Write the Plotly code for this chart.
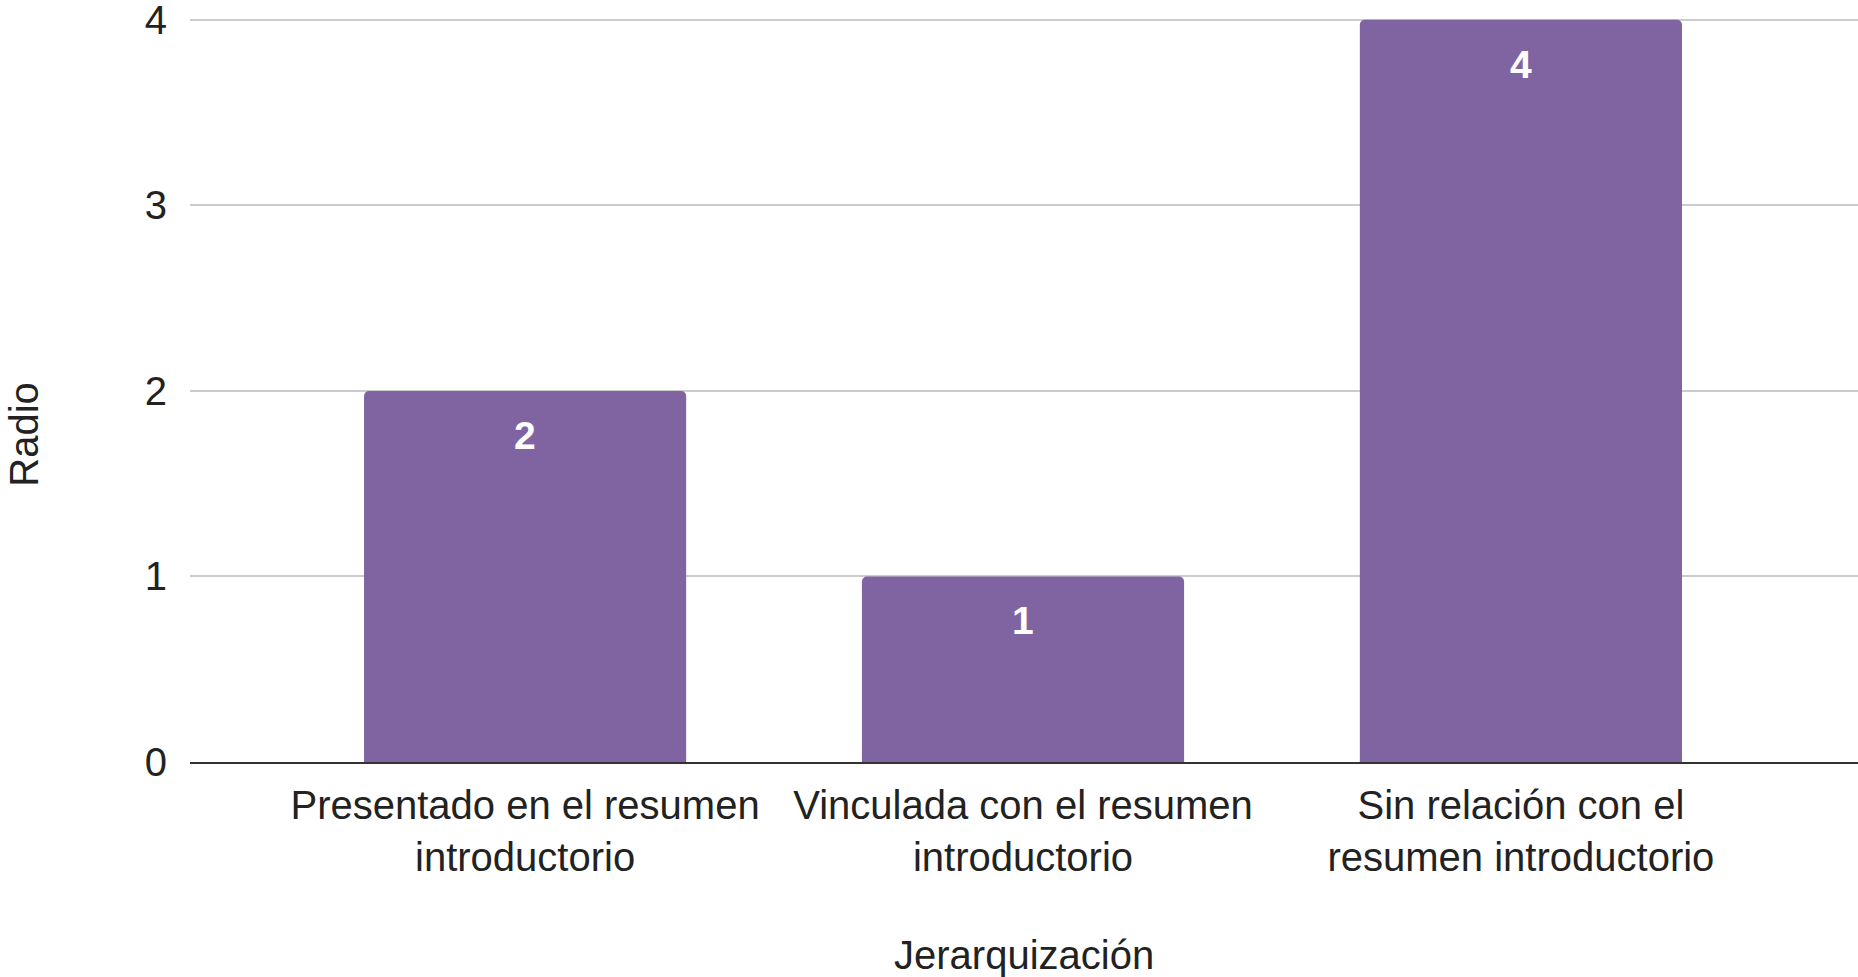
import plotly.graph_objects as go

# Data
categories = [
    'Presentado en el resumen<br>introductorio',
    'Vinculada con el resumen<br>introductorio',
    'Sin relación con el<br>resumen introductorio',
]
values = [2, 1, 4]
y_ticks = [0, 1, 2, 3, 4]

bar_color = '#8064A2'
font_family = 'Liberation Sans, Arial, sans-serif'
text_color = '#222222'

fig = go.Figure()

fig.add_trace(go.Bar(
    x=categories,
    y=values,
    marker=dict(color=bar_color, line=dict(width=0)),
    width=0.647,
    hoverinfo='skip',
    showlegend=False,
))

# Value labels inside the top of each bar
for cat, val in zip(categories, values):
    fig.add_annotation(
        x=cat, y=val, text=f'<b>{val}</b>',
        showarrow=False, yanchor='top', yshift=-21,
        font=dict(family=font_family, size=39, color='white'),
    )

# Axis titles placed like the original
fig.add_annotation(
    text='Radio', xref='paper', yref='paper',
    x=-0.0995, y=0.44, textangle=-90,
    showarrow=False, xanchor='center', yanchor='middle',
    font=dict(family=font_family, size=40, color=text_color),
)
fig.add_annotation(
    text='Jerarquización', xref='paper', yref='paper',
    x=0.5, y=-0.2594,
    showarrow=False, xanchor='center', yanchor='middle',
    font=dict(family=font_family, size=40, color=text_color),
)

fig.update_layout(
    width=1858,
    height=977,
    margin=dict(l=190, r=0, t=18, b=215),
    plot_bgcolor='white',
    paper_bgcolor='white',
    barcornerradius=5,
    font=dict(family=font_family, size=40, color=text_color),
    xaxis=dict(
        range=[-0.673, 2.677],
        automargin=False,
        showgrid=False,
        showline=True,
        linecolor='#333333',
        linewidth=2,
        ticks='',
        ticklabelstandoff=7,
    ),
    yaxis=dict(
        range=[0, 4.01],
        automargin=False,
        tickvals=y_ticks,
        showgrid=True,
        gridcolor='#cccccc',
        gridwidth=2,
        zeroline=False,
        ticks='',
        ticklabelstandoff=22,
        ticklabeloverflow='allow',
    ),
)

# remove the default page margin so the figure fills the window exactly
fig.write_html(
    'out.html',
    config={'displayModeBar': False},
    post_script="document.body.style.margin='0';",
)
